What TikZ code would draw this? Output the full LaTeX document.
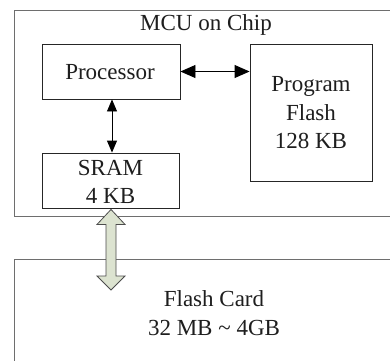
\documentclass[tikz,border=0pt]{standalone}
\usepackage{fontspec}
\setmainfont{Liberation Serif}
\usetikzlibrary{arrows.meta,calc}
\definecolor{outerline}{HTML}{6E6E6E}
\definecolor{arrowfill}{HTML}{DCE3D0}
\definecolor{txt}{HTML}{1E1E1E}
\tikzset{
  outerbox/.style={draw=outerline,line width=0.9pt},
  innerbox/.style={draw=black!85,line width=0.9pt,inner sep=0pt},
  lbl/.style={text=txt,font=\fontsize{23}{28.5}\selectfont,align=center,inner sep=0pt},
  bigtip/.style={{Triangle[length=15pt,width=13pt]}-{Triangle[length=15pt,width=13pt]},line width=0.9pt},
  smalltip/.style={{Triangle[length=12pt,width=10pt]}-{Triangle[length=12pt,width=10pt]},line width=0.9pt},
  fatarrow/.style={fill=arrowfill,draw=black!70,line width=0.8pt,line join=miter}
}
\begin{document}
\begin{tikzpicture}[x=1pt,y=-1pt]
\useasboundingbox (0,0) rectangle (390,360);
\clip (0,0) rectangle (390,360);
\fill[white] (0,0) rectangle (390,360);
% outer boxes
\draw[outerbox] (395,10) -- (14,10) -- (14,216.5) -- (395,216.5);
\draw[outerbox] (395,259) -- (14,259) -- (14,365);
\node[lbl] (mcutitle) at (206,25) {MCU on Chip};
\node[lbl] (card) at (214,313) {Flash Card\\32 MB \textasciitilde{} 4GB};
% inner boxes
\node[innerbox,minimum width=138pt,minimum height=55pt] (proc) at (111,71.5) {};
\node[lbl] (proctext) at (110,72) {Processor};
\node[innerbox,minimum width=122pt,minimum height=137pt] (flash) at (311,112.5) {};
\node[lbl] (flashtext) at (311,113) {Program\\Flash\\128 KB};
\node[innerbox,minimum width=137pt,minimum height=55pt] (sram) at (110.5,180.5) {};
\node[lbl] (sramtext) at (110.5,182) {SRAM\\4 KB};
% connectors
\draw[bigtip] (proc.east) -- (flash.west |- proc.east);
\draw[smalltip] (proc.south -| 112,0) -- (sram.north -| 112,0);
% fat arrow between SRAM and card
\coordinate (top) at ($(sram.south)+(0.5,1)$);
\coordinate (bot) at (111,290);
\draw[fatarrow] (top) -- ++(14,15) -- ++(-9,0) -- ($(bot)+(5,-14)$) -- ++(9,0) -- (bot)
  -- ++(-14,-14) -- ++(9,0) -- ($(top)+(-5,15)$) -- ++(-9,0) -- cycle;
\end{tikzpicture}
\end{document}
